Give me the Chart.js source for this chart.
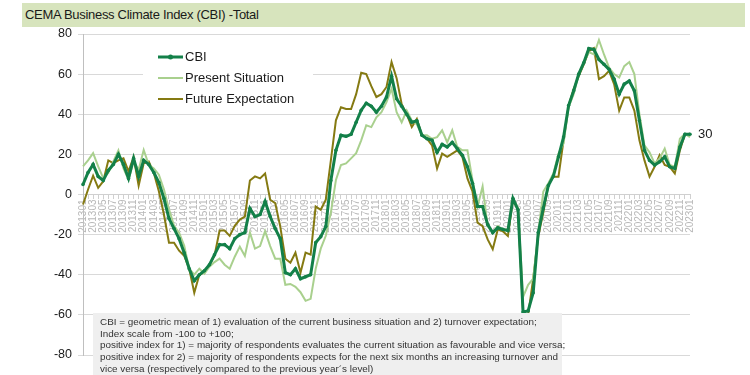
<!DOCTYPE html>
<html>
<head>
<meta charset="utf-8">
<script src="https://cdn.jsdelivr.net/npm/chart.js@4/dist/chart.umd.min.js"></script>
<style>
  html, body { margin: 0; padding: 0; background: #fff; }
  #wrap { position: relative; width: 750px; height: 375px; overflow: hidden; font-family: "Liberation Sans", Arial, sans-serif; }
  #title { position: absolute; left: 22px; top: 3px; width: 723px; height: 24px; background: #d7e4bd; color: #1a1a1a; font-size: 13px; letter-spacing: -0.3px; line-height: 24px; padding-left: 3px; box-sizing: border-box; }
  #note { position: absolute; left: 93px; top: 313px; width: 469px; height: 62px; background: #efefef; color: #333; font-size: 9.9px; line-height: 11.7px; padding: 3px 4px 0 7px; box-sizing: border-box; }
  #note div { white-space: nowrap; }
  #note .j { text-align: justify; text-align-last: justify; }
  canvas { position: absolute; left: 0; top: 0; }
</style>
</head>
<body>
<div id="wrap">
  <canvas id="c" width="750" height="375"></canvas>
  <div id="title">CEMA Business Climate Index (CBI) -Total</div>
  <div id="note">
    <div>CBI = geometric mean of 1) evaluation of the current business situation and 2) turnover expectation;</div>
    <div>Index scale from -100 to +100;</div>
    <div>positive index for 1) = majority of respondents evaluates the current situation as favourable and vice versa;</div>
    <div class="j">positive index for 2) = majority of respondents expects for the next six months an increasing turnover and</div>
    <div>vice versa (respectively compared to the previous year´s level)</div>
  </div>
</div>
<script>
const months = [
 "201301","201302","201303","201304","201305","201306","201307","201308","201309","201310","201311","201312",
 "201401","201402","201403","201404","201405","201406","201407","201408","201409","201410","201411","201412",
 "201501","201502","201503","201504","201505","201506","201507","201508","201509","201510","201511","201512",
 "201601","201602","201603","201604","201605","201606","201607","201608","201609","201610","201611","201612",
 "201701","201702","201703","201704","201705","201706","201707","201708","201709","201710","201711","201712",
 "201801","201802","201803","201804","201805","201806","201807","201808","201809","201810","201811","201812",
 "201901","201902","201903","201904","201905","201906","201907","201908","201909","201910","201911","201912",
 "202001","202002","202003","202004","202005","202006","202007","202008","202009","202010","202011","202012",
 "202101","202102","202103","202104","202105","202106","202107","202108","202109","202110","202111","202112",
 "202201","202202","202203","202204","202205","202206","202207","202208","202209","202210","202211","202212",
 "202301"
];

const cbi = [
 5, 11, 15, 9, 7, 12, 15, 20, 15, 8, 18, 9,
 17, 15, 11, 6, -2, -12, -17, -22, -29, -37, -43, -40,
 -38, -35, -30, -25, -25, -27, -22, -20, -19, -7, -11, -10,
 -3.5, -11, -17, -22, -39, -40, -37, -42, -41, -40, -24, -21,
 -16, 7, 22, 29.5, 29, 30, 36, 42, 45.5, 44, 41, 44,
 48.6, 59, 47.7, 44, 40, 36, 36.7, 29.5, 27.8, 27, 21, 25,
 23.7, 26, 22.8, 19.6, 13.8, 5.6, -6, -6, -15, -19, -16.6, -17.4,
 -18, -2, -7.6, -58.6, -58, -49, -19, -6.7, 4.5, 9.2, 18.8, 28.6,
 44.3, 51.7, 60, 65.7, 72.8, 72.3, 67.3, 64.9, 62.4, 57.5, 50, 55,
 56.6, 51.7, 36.9, 22, 17, 14.7, 16.3, 18.8, 13.8, 13, 23.7, 30,
 30
];

const present = [
 14, 17, 20.6, 14, 8.2, 10.7, 16.5, 22, 13, 7.4, 16.5, 12.3,
 22.2, 14.8, 13, 9.9, 2.5, -7.4, -15.6, -19, -25.5, -37, -40, -37,
 -39.5, -36, -33.7, -32, -35, -37, -31, -26, -30.6, -19, -27, -25.7,
 -18.3, -25.7, -32, -32, -45, -44.6, -46, -48.7, -53, -52, -37, -27,
 -20.6, -9, 7.2, 14.7, 15.5, 18, 20.6, 27, 34.5, 33.6, 38.5, 41,
 46, 52.7, 41, 36, 41.8, 36.9, 35, 29.5, 29.5, 27.8, 28.6, 32,
 26, 32, 23.7, 22, 22, 7.2, -6, 4, -15.8, -19, -15.8, -17.4,
 -17.4, -1.8, -6.7, -51, -45, -42, -19, 1.5, 5.6, 10.5, 20.4, 25.4,
 43.5, 50, 60, 65.7, 71, 69.8, 77, 69.8, 63.2, 60, 58.3, 64,
 66, 60, 40, 24.5, 21, 15.5, 18, 22.9, 14.7, 13.8, 27.8, 30.3,
 28.6
];

const future = [
 -5, 2.5, 9.4, 3.3, 6.6, 17, 15.6, 17, 18, 11.5, 18.6, 4.4,
 15.6, 16.5, 10.7, 1.6, -10, -24, -24, -28, -30.5, -37, -49, -40,
 -38.7, -35, -30.5, -18, -18, -20.6, -15.6, -12.5, -11, 7, 9, 8,
 10.5, -2.6, -4.3, -16, -32, -34, -29, -39, -29, -30, -6, -7.6,
 -2.6, 17, 37, 43.5, 42.6, 42.6, 50, 60.7, 60, 54, 48.6, 50,
 53.6, 66, 58, 45, 40, 33.6, 37.7, 29.5, 27.8, 24.5, 13, 20.4,
 18.8, 20.4, 22, 18.8, 8, 1.5, -14, -15.8, -22.4, -27.3, -17.4, -18.3,
 -20.7, -2.6, -7.6, -58.6, -60, -42, -20.7, -9, 5, 8.9, 8.9, 27,
 44.3, 52.5, 59, 64.9, 71.4, 73, 57.5, 59, 61.6, 55, 41.8, 48.4,
 48.4, 41.8, 27, 17, 8.9, 13.8, 19.6, 14.7, 13.8, 10.5, 22, 30,
 30.3
];

const yTicks = [-80, -60, -40, -20, 0, 20, 40, 60, 80];
const seriesNames = ["CBI", "Present Situation", "Future Expectation"];
const seriesColors = ["#138049", "#a9d08e", "#857a12"];
const lastLabel = "30";

const FONT = '"Liberation Sans", Arial, sans-serif';

const legendPlugin = {
  id: 'customLegend',
  beforeDatasetsDraw(chart) {
    const ctx = chart.ctx;
    ctx.save();
    ctx.fillStyle = '#ffffff';
    ctx.fillRect(143, 42, 170, 68);
    ctx.restore();
  },
  afterDraw(chart) {
    const ctx = chart.ctx;
    ctx.save();
    const ys = [57, 78, 99];
    chart.data.datasets.forEach((ds, i) => {
      const y = ys[i];
      ctx.strokeStyle = ds.borderColor;
      ctx.lineWidth = ds.borderWidth;
      ctx.beginPath();
      ctx.moveTo(158, y);
      ctx.lineTo(183, y);
      ctx.stroke();
      if (ds.pointRadius > 0) {
        ctx.fillStyle = ds.borderColor;
        ctx.beginPath();
        ctx.arc(170.5, y, 2.5, 0, Math.PI * 2);
        ctx.fill();
      }
      ctx.fillStyle = '#1a1a1a';
      ctx.font = '13px ' + FONT;
      ctx.textBaseline = 'middle';
      ctx.textAlign = 'left';
      ctx.fillText(ds.label, 185, y + 0.5);
    });
    const meta = chart.getDatasetMeta(0);
    const last = meta.data[meta.data.length - 1];
    ctx.fillStyle = '#1a1a1a';
    ctx.font = '13px ' + FONT;
    ctx.textBaseline = 'middle';
    ctx.fillText(lastLabel, last.x + 8, last.y);
    ctx.restore();
  }
};

new Chart(document.getElementById('c'), {
  type: 'line',
  data: {
    labels: months,
    datasets: [
      { label: seriesNames[0], data: cbi, borderColor: seriesColors[0], backgroundColor: seriesColors[0], borderWidth: 3, pointRadius: 1.8, pointBorderWidth: 0, pointBackgroundColor: seriesColors[0], tension: 0, order: 0 },
      { label: seriesNames[1], data: present, borderColor: seriesColors[1], backgroundColor: seriesColors[1], borderWidth: 2, pointRadius: 0, tension: 0, order: 1 },
      { label: seriesNames[2], data: future, borderColor: seriesColors[2], backgroundColor: seriesColors[2], borderWidth: 2, pointRadius: 0, tension: 0, order: 2 }
    ]
  },
  options: {
    responsive: false,
    animation: false,
    events: [],
    layout: { padding: { left: 0, right: 60, top: 34, bottom: 20 } },
    plugins: { legend: { display: false }, tooltip: { enabled: false }, title: { display: false } },
    scales: {
      x: {
        position: { y: 0 },
        grid: { drawOnChartArea: false, drawTicks: true, tickLength: 4, color: '#d0d0d0' },
        border: { display: true, color: '#d0d0d0', width: 1 },
        ticks: {
          autoSkip: false, minRotation: 90, maxRotation: 90, padding: 1,
          color: '#b8b8b8', font: { family: FONT, size: 10 },
          callback: function(v, i) { return i % 2 === 0 ? months[i] : ''; }
        }
      },
      y: {
        min: -80, max: 80,
        afterFit(scale) { scale.width = 83; },
        afterBuildTicks(scale) { scale.ticks = yTicks.map(v => ({ value: v })); },
        grid: { color: '#d9d9d9', tickLength: 5, lineWidth: 1 },
        border: { display: true, color: '#bfbfbf' },
        ticks: { color: '#1a1a1a', padding: 6, font: { family: FONT, size: 12.5 } }
      }
    }
  },
  plugins: [legendPlugin]
});
</script>
</body>
</html>
